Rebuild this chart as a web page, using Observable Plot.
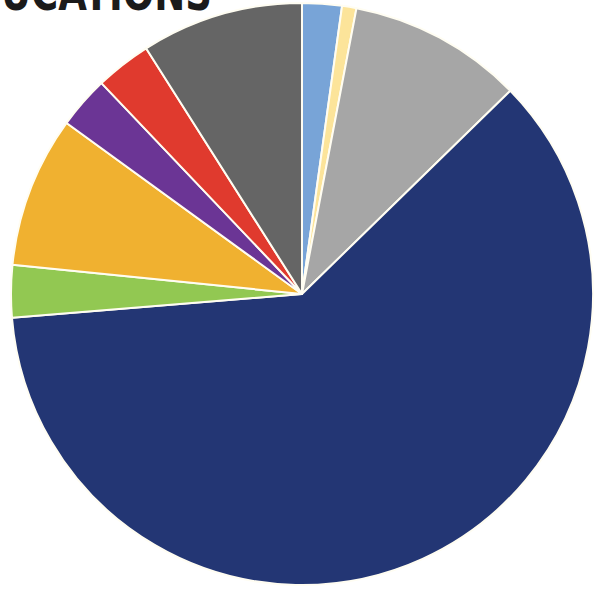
<!DOCTYPE html>
<html>
<head>
<meta charset="utf-8">
<script src="https://cdn.jsdelivr.net/npm/d3@7"></script>
<script src="https://cdn.jsdelivr.net/npm/@observablehq/plot@0.6"></script>
<style>
  html, body { margin: 0; padding: 0; background: #fff; }
  #wrap { position: relative; width: 597px; height: 591px; overflow: hidden; }
  #title {
    position: absolute; left: 1px; top: -31px; margin: 0;
    font-family: "DejaVu Sans Condensed", "DejaVu Sans", sans-serif;
    font-stretch: condensed;
    font-weight: bold; font-size: 49px; line-height: 1; color: #1a1a1a;
    letter-spacing: 0px; white-space: nowrap; z-index: 2;
    transform: scaleX(0.84); transform-origin: left top;
  }
  #chart { position: absolute; left: 0; top: 0; }
</style>
</head>
<body>
<div id="wrap">
  <div id="title">UCATIONS</div>
  <div id="chart"></div>
</div>
<script>
// Slices, clockwise from 12 o'clock (percent shares)
const categories = ["Light blue", "Pale yellow", "Light gray", "Navy", "Green", "Orange", "Purple", "Red", "Dark gray"];
const shares = [2.2, 0.8, 9.7, 61.0, 2.9, 8.4, 2.9, 3.1, 9.0];
const colors = ["#78a4d7", "#fce49a", "#a6a6a6", "#233674", "#92c852", "#f0b130", "#6b3595", "#e03a2e", "#656565"];

const data = categories.map((category, i) => ({category, share: shares[i]}));
const arcs = d3.pie().value(d => d.share).sort(null)(data);

const cx = 302, cy = 294, R = 291;

const plot = Plot.plot({
  width: 597,
  height: 591,
  margin: 0,
  x: {domain: [-1, 1], range: [cx - R, cx + R], axis: null},
  y: {domain: [-1, 1], range: [cy + R, cy - R], axis: null},
  color: {domain: categories, range: colors},
  marks: [
    Plot.dot(arcs, {
      x: () => 0,
      y: () => 0,
      fill: d => d.data.category,
      render: (index, scales, values, dimensions, context) => {
        const x0 = scales.x(0), y0 = scales.y(0);
        const r = scales.x(1) - scales.x(0);
        const arc = d3.arc().innerRadius(0).outerRadius(r);
        const g = context.document.createElementNS("http://www.w3.org/2000/svg", "g");
        d3.select(g)
          .attr("transform", `translate(${x0},${y0})`)
          .selectAll("path")
          .data(index)
          .join("path")
          .attr("d", i => arc(arcs[i]))
          .attr("fill", i => values.fill[i])
          .attr("stroke", "#fffdf2")
          .attr("stroke-width", 2)
          .attr("stroke-linejoin", "round");
        return g;
      }
    })
  ]
});
document.getElementById("chart").appendChild(plot);
</script>
</body>
</html>
